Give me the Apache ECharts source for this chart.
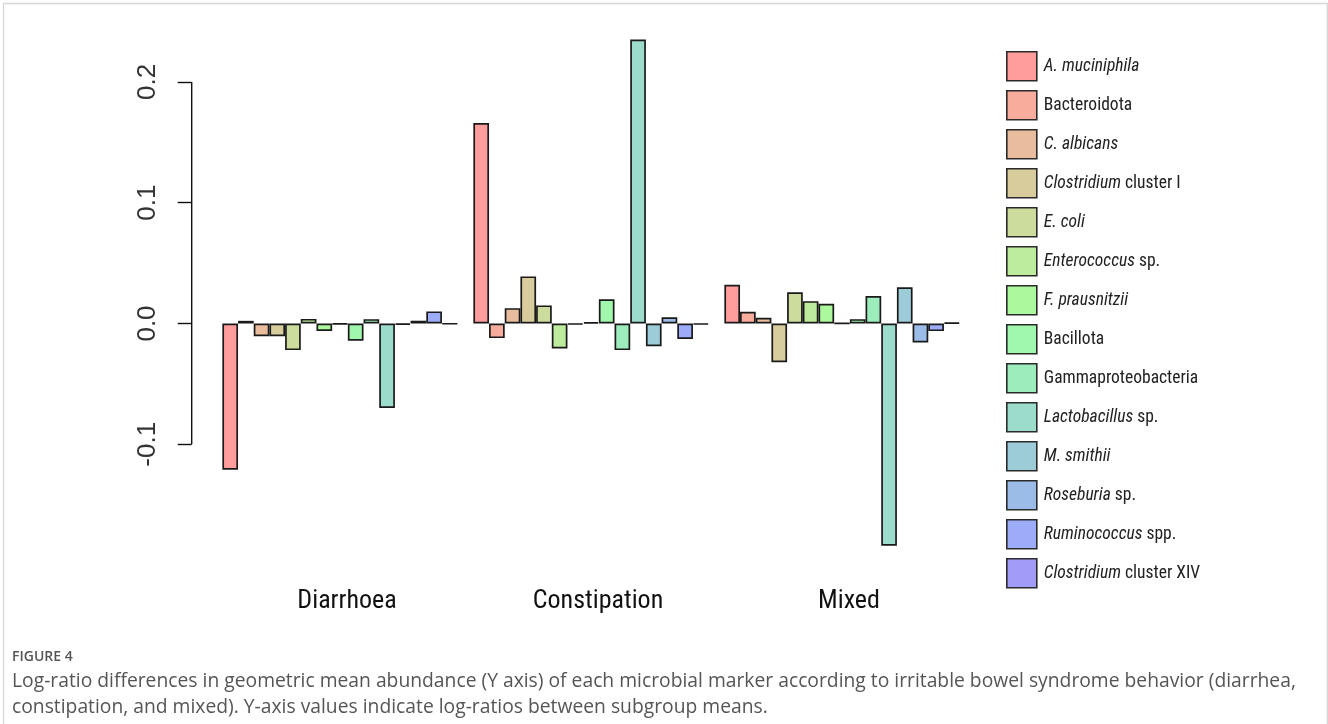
<!DOCTYPE html>
<html>
<head>
<meta charset="utf-8">
<script src="https://cdn.jsdelivr.net/npm/echarts@6/dist/echarts.min.js"></script>
<style>
  html, body { margin: 0; padding: 0; background: #fff; }
  #chart { width: 1328px; height: 724px; }
</style>
</head>
<body>
<div id="chart"></div>
<script>
// Subtype groups along the x axis
const groups = ['Diarrhoea', 'Constipation', 'Mixed'];

// Microbial markers, one bar per marker in each group (the 8th bar has no legend entry)
const markers = ['A. muciniphila', 'Bacteroidota', 'C. albicans', 'Clostridium cluster I', 'E. coli',
  'Enterococcus sp.', 'F. prausnitzii', '', 'Bacillota', 'Gammaproteobacteria', 'Lactobacillus sp.',
  'M. smithii', 'Roseburia sp.', 'Ruminococcus spp.', 'Clostridium cluster XIV'];

// Log-ratio differences per marker, one array per subtype
const diarrhoea = [-0.121, 0.0022, -0.0105, -0.0105, -0.0220, 0.0038, -0.0062, -0.0006, -0.0143, 0.0036,
  -0.0700, -0.0010, 0.0023, 0.0100, -0.0004];
const constipation = [0.166, -0.0121, 0.0127, 0.0390, 0.0150, -0.0206, -0.0008, 0.0012, 0.0200, -0.0220,
  0.2350, -0.0188, 0.0052, -0.0128, -0.0008];
const mixed = [0.032, 0.0097, 0.0048, -0.0321, 0.0258, 0.0185, 0.0163, 0.0002, 0.0036, 0.0228,
  -0.1840, 0.0300, -0.0157, -0.0063, 0.0007];

// Y axis tick values
const yTicks = [-0.1, 0.0, 0.1, 0.2];

// Pastel rainbow fills, red through blue-violet
const colors = ['#FF9C9C', '#F8AC9C', '#E8BC9C', '#D8CC9C', '#CCDC9C', '#BCEC9C', '#ACF89C', '#A2FCA2',
  '#A0F8AC', '#9CECBC', '#9CDCCC', '#9CCCD8', '#9CBCE8', '#9CACF8', '#A09CF8'];

const uprightNames = ['Bacteroidota', 'Bacillota', 'Gammaproteobacteria'];
// Taxon names in italics, rank qualifiers upright
function richName(n) {
  if (uprightNames.includes(n)) return n;
  const m = n.match(/^(.*?)( sp\.| spp\.| cluster .*)?$/);
  return '{i|' + m[1] + '}' + (m[2] || '');
}

const narrowFont = "'Liberation Sans Narrow', 'Roboto Condensed', Roboto, sans-serif";
const GRID_LEFT = 214.5;
const AXIS_OFFSET = 22.8;

const chart = echarts.init(document.getElementById('chart'), null, { renderer: 'canvas' });

chart.setOption({
  animation: false,
  backgroundColor: '#ffffff',
  grid: { left: GRID_LEFT, right: 360.5, top: 21.5, bottom: 158.9, outerBoundsMode: 'none' },
  legend: {
    data: markers.filter(n => n),
    orient: 'vertical',
    left: 1006,
    top: 51,
    padding: 0,
    itemWidth: 30,
    itemHeight: 29,
    itemGap: 8.4,
    icon: 'rect',
    selectedMode: false,
    itemStyle: { borderColor: '#2a2a2a', borderWidth: 1.6 },
    formatter: richName,
    textStyle: {
      fontFamily: narrowFont, fontSize: 17.5, lineHeight: 22, color: '#222', padding: [0, 0, 0, 2],
      rich: { i: { fontFamily: narrowFont, fontSize: 17.5, lineHeight: 22, color: '#222', fontStyle: 'italic' } }
    }
  },
  xAxis: {
    type: 'category',
    data: groups,
    axisLine: { show: false },
    axisTick: { show: false },
    splitLine: { show: false },
    axisLabel: { fontFamily: narrowFont, fontSize: 26, color: '#111', margin: 23, padding: [0, 0, 0, 14] }
  },
  yAxis: {
    type: 'value',
    min: -0.2,
    max: 0.25,
    offset: AXIS_OFFSET,
    splitLine: { show: false },
    axisLine: { show: false },
    axisTick: { show: true, customValues: yTicks, length: 14, lineStyle: { color: '#111', width: 1.4 } },
    axisLabel: {
      customValues: yTicks, rotate: 90, margin: 31,
      fontFamily: "'Liberation Sans', Arial, sans-serif", fontSize: 26, color: '#333',
      formatter: v => v.toFixed(1)
    }
  },
  series: markers.map((name, i) => ({
    type: 'bar',
    name: name,
    data: [diarrhoea[i], constipation[i], mixed[i]],
    barGap: '0%',
    barCategoryGap: '6.25%',
    itemStyle: { color: colors[i], borderColor: '#1a1a1a', borderWidth: 1.7 },
    emphasis: { disabled: true }
  }))
});

// Y axis line spanning only the labelled tick range
const yTop = chart.convertToPixel({ yAxisIndex: 0 }, yTicks[yTicks.length - 1]);
const yBot = chart.convertToPixel({ yAxisIndex: 0 }, yTicks[0]);
const axisX = GRID_LEFT - AXIS_OFFSET;

chart.setOption({
  graphic: [
    { type: 'line', shape: { x1: axisX, y1: yTop, x2: axisX, y2: yBot }, style: { stroke: '#111', lineWidth: 1.4 } },
    { type: 'polyline', shape: { points: [[3.5, 724], [3.5, 3.5], [1327.3, 3.5], [1327.3, 724]] },
      style: { stroke: '#d6d6d6', lineWidth: 1.3, fill: null } },
    { type: 'text', x: 12, y: 657,
      style: { text: 'FIGURE 4', font: "600 14px 'Open Sans', sans-serif", fill: '#555', verticalAlign: 'middle' } },
    { type: 'text', x: 12, y: 682,
      style: { text: 'Log-ratio differences in geometric mean abundance (Y axis) of each microbial marker according to irritable bowel syndrome behavior (diarrhea,',
               font: "19.3px 'Open Sans', sans-serif", fill: '#555', verticalAlign: 'middle' } },
    { type: 'text', x: 12, y: 708,
      style: { text: 'constipation, and mixed). Y-axis values indicate log-ratios between subgroup means.',
               font: "19.3px 'Open Sans', sans-serif", fill: '#555', verticalAlign: 'middle' } }
  ]
});
</script>
</body>
</html>
